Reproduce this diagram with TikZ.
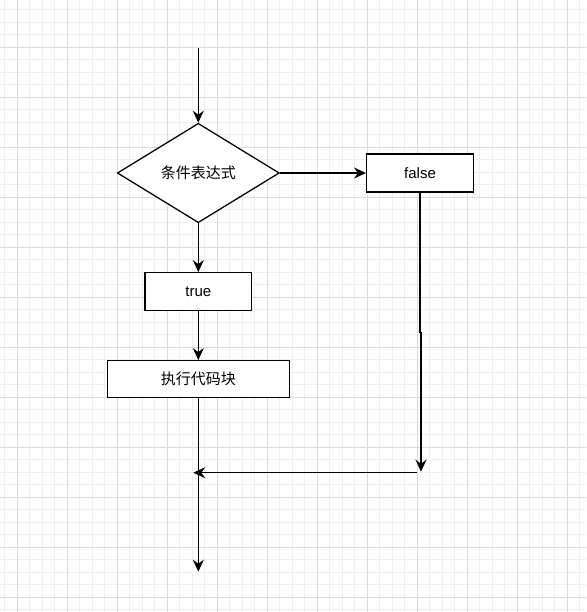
\documentclass[tikz,border=0pt]{standalone}
\usepackage{fontspec}
\setmainfont{Liberation Sans}
\newfontfamily\cjk{Noto Sans CJK SC}
\usetikzlibrary{shapes.geometric,arrows.meta}
\definecolor{gridminor}{HTML}{F0F0F0}
\definecolor{gridmajor}{HTML}{DADADA}
\begin{document}
\begin{tikzpicture}[x=1pt,y=-1pt,
  box/.style={draw=black,fill=white,line width=1.25pt,inner sep=0pt,font=\fontsize{15pt}{18pt}\selectfont},
  decision/.style={diamond,draw=black,fill=white,line width=1.25pt,inner sep=0pt,font=\fontsize{15pt}{18pt}\selectfont\cjk},
  conn/.style={line width=1.3pt,draw=black},
  arr/.style={conn,-{Stealth[length=12pt,width=11pt,inset=4pt]}}]
\useasboundingbox (0,0) rectangle (586,612);
\fill[white] (0,0) rectangle (586,612);
\foreach \i in {0,...,47} {
  \draw[gridminor,line width=0.8pt] ({4.8+12.5*\i},0) -- ({4.8+12.5*\i},612);
}
\foreach \i in {0,...,48} {
  \draw[gridminor,line width=0.8pt] (0,{9.8+12.5*\i}) -- (586,{9.8+12.5*\i});
}
\foreach \i in {0,...,11} {
  \draw[gridmajor,line width=0.8pt] ({17.3+50*\i},0) -- ({17.3+50*\i},612);
  \draw[gridmajor,line width=0.8pt] (0,{47.3+50*\i}) -- (586,{47.3+50*\i});
}
\node[decision,minimum width=162pt,minimum height=99.4pt] (cond) at (198.3,173) {条件表达式};
\node[box,minimum width=106.7pt,minimum height=38pt] (false) at (420,173) {false};
\node[box,minimum width=106.7pt,minimum height=38pt] (true) at (198.3,291.7) {true};
\node[box,minimum width=182pt,minimum height=37pt,font=\fontsize{15pt}{18pt}\selectfont\cjk] (code) at (198.3,379.2) {执行代码块};
\coordinate (start) at (198.3,48);
\coordinate (fb1) at (420,332.5);
\coordinate (fb2) at (421,332.5);
\coordinate (fend) at (421,471.7);
\coordinate (hstart) at (417,472.7);
\coordinate (hend) at (193.3,472.7);
\coordinate (bend) at (198.3,571.7);
\draw[arr] (start) -- (cond.north);
\draw[arr] (cond.east) -- (false.west);
\draw[arr] (cond.south) -- (true.north);
\draw[arr] (true.south) -- (code.north);
\draw[arr] (false.south) -- (fb1) -- (fb2) -- (fend);
\draw[arr] (hstart) -- (hend);
\draw[arr] (code.south) -- (bend);
\end{tikzpicture}
\end{document}
